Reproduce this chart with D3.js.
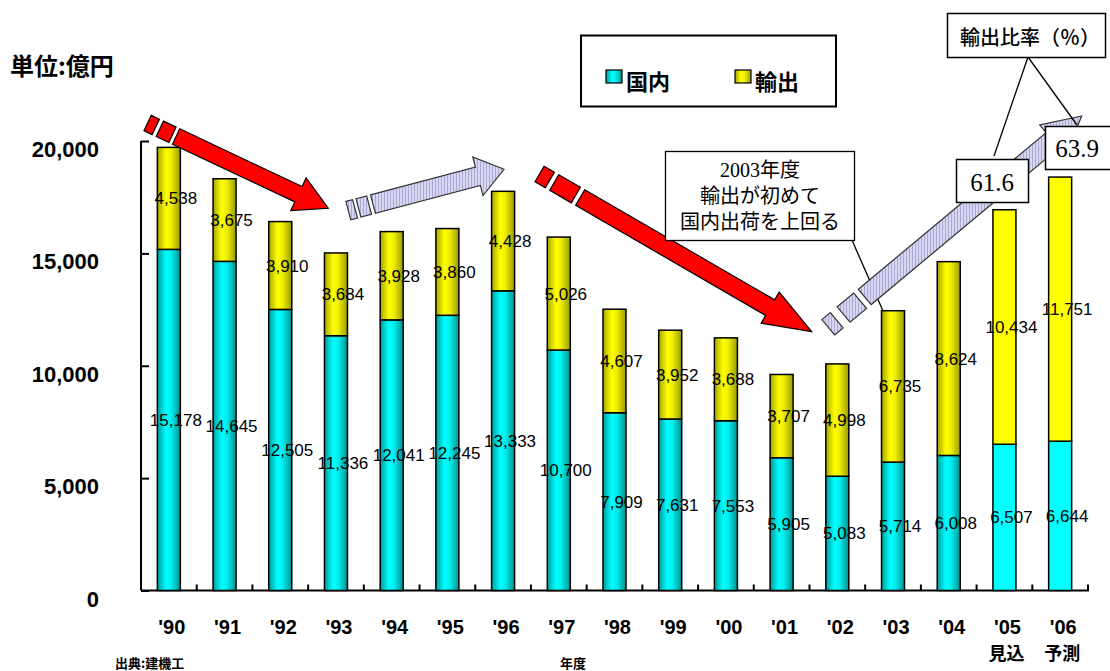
<!DOCTYPE html>
<html><head><meta charset="utf-8">
<script src="https://cdn.jsdelivr.net/npm/d3@7/dist/d3.min.js"></script>
<style>body{margin:0;background:#fff}svg{display:block}</style>
</head><body>
<svg id="c" width="1110" height="671"></svg>
<script>
const years = ["'90","'91","'92","'93","'94","'95","'96","'97","'98","'99","'00","'01","'02","'03","'04","'05","'06"];
const subLabels = ["","","","","","","","","","","","","","","","見込","予測"];
const domestic = [15178,14645,12505,11336,12041,12245,13333,10700,7909,7631,7553,5905,5083,5714,6008,6507,6644];
const exportVals = [4538,3675,3910,3684,3928,3860,4428,5026,4607,3952,3688,3707,4998,6735,8624,10434,11751];
const yTicks = [0,5000,10000,15000,20000];
const forecastFrom = 15;
const ratioLabels = ["61.6","63.9"];
const noteLines = ["2003年度","輸出が初めて","国内出荷を上回る"];

const svg = d3.select("#c");
const x = d3.scaleBand().domain(years).range([141,1088]).paddingInner(0.587).paddingOuter(0.2935);
const y = d3.scaleLinear().domain([0,20000]).range([590.5,141]);

const defs = svg.append("defs");
function grad(id, stops){
  const g = defs.append("linearGradient").attr("id",id).attr("x1","0").attr("x2","1").attr("y1","0").attr("y2","0");
  stops.forEach(([o,c])=>g.append("stop").attr("offset",o).attr("stop-color",c));
}
grad("gc",[[0,"#009c9c"],[0.38,"#00ffff"],[0.6,"#00eeee"],[1,"#009090"]]);
grad("gy",[[0,"#a6a600"],[0.38,"#ffff00"],[0.6,"#eeee00"],[1,"#9a9a00"]]);
const pat = defs.append("pattern").attr("id","hatch").attr("patternUnits","userSpaceOnUse").attr("width",3).attr("height",3);
pat.append("rect").attr("width",3).attr("height",3).attr("fill","#d6d6f0");
pat.append("rect").attr("width",1).attr("height",3).attr("fill","#aaaad4");

// axes
const gy = svg.append("g").attr("transform","translate(141,0)")
  .call(d3.axisRight(y).tickValues(yTicks).tickSize(8).tickFormat(""));
gy.select(".domain").attr("d","M0,141V590.5").attr("stroke","#000").attr("stroke-width",2);
gy.selectAll(".tick line").attr("stroke","#000").attr("stroke-width",2);

const gx = svg.append("g").attr("transform","translate(0,590.5)");
gx.append("line").attr("x1",141).attr("x2",1089).attr("stroke","#000").attr("stroke-width",2);
gx.selectAll("line.t").data(years).join("line").attr("class","t")
  .attr("x1",d=>x(d)+x.step()-(x.step()-x.bandwidth())/2).attr("x2",d=>x(d)+x.step()-(x.step()-x.bandwidth())/2)
  .attr("y1",0).attr("y2",-6).attr("stroke","#000").attr("stroke-width",2);

// y tick labels
svg.append("g").selectAll("text").data(yTicks).join("text")
  .attr("x",99).attr("y",d=>y(d)+16).attr("text-anchor","end")
  .attr("font-family","Liberation Sans, Arial, sans-serif").attr("font-weight","bold").attr("font-size",22)
  .text(d=>d3.format(",")(d));

// bars
const bars = svg.append("g");
years.forEach((yr,i)=>{
  const fc = i>=forecastFrom;
  bars.append("rect").attr("x",x(yr)).attr("width",x.bandwidth())
    .attr("y",y(domestic[i])).attr("height",y(0)-y(domestic[i]))
    .attr("fill",fc?"#00ffff":"url(#gc)").attr("stroke","#000").attr("stroke-width",1.5);
  bars.append("rect").attr("x",x(yr)).attr("width",x.bandwidth())
    .attr("y",y(domestic[i]+exportVals[i])).attr("height",y(domestic[i])-y(domestic[i]+exportVals[i]))
    .attr("fill",fc?"#ffff00":"url(#gy)").attr("stroke","#000").attr("stroke-width",1.5);
});
// value labels
const lab = svg.append("g").attr("font-family","Liberation Sans Narrow, Arial Narrow, sans-serif").attr("font-size",17).attr("text-anchor","middle");
years.forEach((yr,i)=>{
  const cx = x(yr)+x.bandwidth()/2+7;
  lab.append("text").attr("x",cx).attr("y",(y(0)+y(domestic[i]))/2+6).text(d3.format(",")(domestic[i]));
  lab.append("text").attr("x",cx).attr("y",(y(domestic[i])+y(domestic[i]+exportVals[i]))/2+6).text(d3.format(",")(exportVals[i]));
});

// x labels
const xl = svg.append("g").attr("font-family","Liberation Sans, Arial, sans-serif").attr("font-weight","bold").attr("text-anchor","middle");
xl.selectAll("text.y").data(years).join("text").attr("class","y")
  .attr("x",d=>x(d)+x.bandwidth()/2+3).attr("y",634).attr("font-size",20).text(d=>d);
xl.selectAll("text.s").data(subLabels).join("text").attr("class","s")
  .attr("x",(d,i)=>x(years[i])+x.bandwidth()/2+2).attr("y",660).attr("font-size",18)
  .attr("font-family","Noto Sans CJK JP, sans-serif").text(d=>d);

// titles
const jp = "Noto Sans CJK JP, sans-serif";
svg.append("text").attr("x",10).attr("y",75).attr("font-family",jp).attr("font-weight","bold").attr("font-size",24).text("単位:億円");
svg.append("text").attr("x",115).attr("y",668).attr("font-family",jp).attr("font-weight","bold").attr("font-size",13).text("出典:建機工");
svg.append("text").attr("x",560).attr("y",668).attr("font-family",jp).attr("font-weight","bold").attr("font-size",13).text("年度");

// legend
const lg = svg.append("g");
lg.append("rect").attr("x",581).attr("y",35.5).attr("width",255).attr("height",71).attr("fill","#fff").attr("stroke","#000").attr("stroke-width",2);
lg.append("rect").attr("x",606).attr("y",70).attr("width",16).attr("height",13).attr("fill","url(#gc)").attr("stroke","#000").attr("stroke-width",1.2);
lg.append("text").attr("x",626).attr("y",90).attr("font-family",jp).attr("font-weight","bold").attr("font-size",22).text("国内");
lg.append("rect").attr("x",735).attr("y",70).attr("width",16).attr("height",13).attr("fill","url(#gy)").attr("stroke","#000").attr("stroke-width",1.2);
lg.append("text").attr("x",755).attr("y",90).attr("font-family",jp).attr("font-weight","bold").attr("font-size",22).text("輸出");

// arrows
function arrowShapes(P,T,pieces,bodyStart,w,hw,hl){
  const dx=T[0]-P[0], dy=T[1]-P[1], L=Math.hypot(dx,dy), ux=dx/L, uy=dy/L, nx=-uy, ny=ux;
  const pt=(t,s)=>[P[0]+ux*t+nx*s, P[1]+uy*t+ny*s];
  const shapes = pieces.map(([a,b])=>[pt(a,-w/2),pt(b,-w/2),pt(b,w/2),pt(a,w/2)]);
  shapes.push([pt(bodyStart,-w/2),pt(L-hl,-w/2),pt(L-hl,-hw/2),pt(L,0),pt(L-hl,hw/2),pt(L-hl,w/2),pt(bodyStart,w/2)]);
  return shapes;
}
function drawArrow(g,shapes,fill,stroke){
  g.selectAll(null).data(shapes).join("path")
    .attr("d",d=>"M"+d.map(p=>p.join(",")).join("L")+"Z")
    .attr("fill",fill).attr("stroke",stroke).attr("stroke-width",1.2).attr("stroke-linejoin","miter");
}
const ag = svg.append("g");
ag.append("line").attr("x1",852).attr("y1",240).attr("x2",883).attr("y2",311).attr("stroke","#000").attr("stroke-width",1.3);
drawArrow(ag, arrowShapes([151.7,125],[328.3,208.3],[[-4.5,4.5],[9,23]],27,17,36,33), "#ff0000", "#000");
drawArrow(ag, arrowShapes([351.7,209.7],[504,169.3],[[-3.5,3.5],[7,18]],22,19,40,27), "url(#hatch)", "#333");
drawArrow(ag, arrowShapes([544.7,177],[811.7,331.7],[[-6,6],[11,36]],41,18,36,48), "#ff0000", "#000");
drawArrow(ag, arrowShapes([832.5,323.8],[1081.7,116],[[-5.5,5.5],[14.5,36]],42,20,40,38), "url(#hatch)", "#333");

// note box
const nb = svg.append("g");
nb.append("rect").attr("x",665.5).attr("y",151.5).attr("width",189).attr("height",89).attr("fill","#fff").attr("stroke","#000").attr("stroke-width",1.3);
nb.selectAll("text").data(noteLines).join("text").attr("x",760).attr("y",(d,i)=>177+i*26)
  .attr("text-anchor","middle").attr("font-family","Liberation Serif, Noto Sans CJK JP, serif").attr("font-size",20).text(d=>d);

// ratio callouts
const rb = svg.append("g");
rb.append("line").attr("x1",1028).attr("y1",57).attr("x2",994).attr("y2",156).attr("stroke","#000").attr("stroke-width",1.3);
rb.append("line").attr("x1",1028).attr("y1",57).attr("x2",1077).attr("y2",125).attr("stroke","#000").attr("stroke-width",1.3);
rb.append("rect").attr("x",947.5).attr("y",13.5).attr("width",158).attr("height",44).attr("fill","#fff").attr("stroke","#000").attr("stroke-width",1.5);
rb.append("text").attr("x",1030).attr("y",45).attr("text-anchor","middle").attr("font-family",jp).attr("font-size",20).attr("font-weight","500").text("輸出比率（％）");
const rboxes = [[956.5,159.5,72,43,992,191],[1045.5,126.5,66,43,1077,157]];
rboxes.forEach((b,i)=>{
  rb.append("rect").attr("x",b[0]).attr("y",b[1]).attr("width",b[2]).attr("height",b[3]).attr("fill","#fff").attr("stroke","#000").attr("stroke-width",1.5);
  rb.append("text").attr("x",b[4]).attr("y",b[5]).attr("text-anchor","middle").attr("font-family","Liberation Serif, Times New Roman, serif").attr("font-size",25).text(ratioLabels[i]);
});
</script>
</body></html>
